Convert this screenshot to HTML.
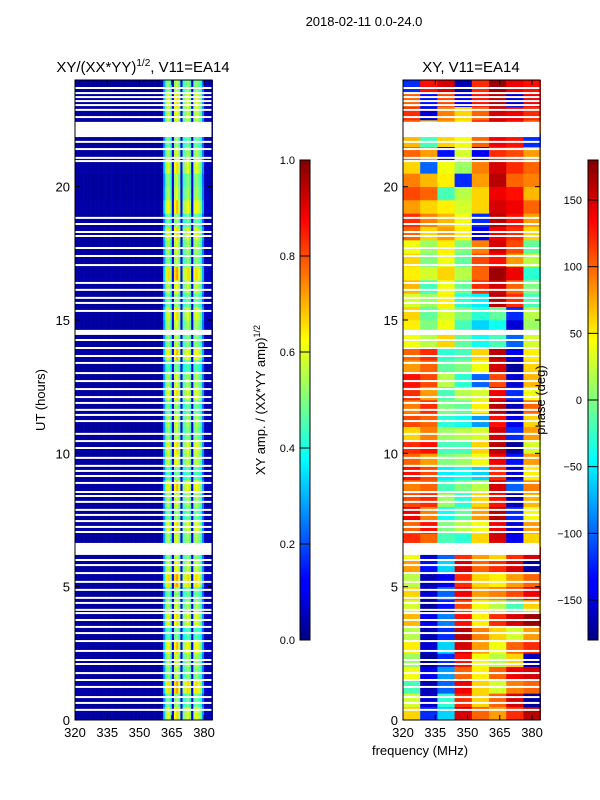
<!DOCTYPE html>
<html><head><meta charset="utf-8">
<style>
html,body{margin:0;padding:0;background:#fff;}
svg{display:block;font-family:"Liberation Sans",sans-serif;}
</style></head>
<body>
<svg id="fig" width="600" height="800" viewBox="0 0 600 800">
<defs>
<linearGradient id="jetv" x1="0" y1="1" x2="0" y2="0">
<stop offset="0" stop-color="#00007f"/><stop offset="0.11" stop-color="#0000ff"/><stop offset="0.125" stop-color="#0000ff"/>
<stop offset="0.34" stop-color="#00dcff"/><stop offset="0.375" stop-color="#00ffff"/><stop offset="0.5" stop-color="#7fff7f"/>
<stop offset="0.625" stop-color="#ffff00"/><stop offset="0.66" stop-color="#ffdc00"/><stop offset="0.875" stop-color="#ff0000"/><stop offset="1" stop-color="#7f0000"/>
</linearGradient>
</defs>
<text x="364" y="26" font-size="13" text-anchor="middle">2018-02-11 0.0-24.0</text>
<text x="143" y="72" font-size="15" text-anchor="middle">XY/(XX*YY)<tspan font-size="10" dy="-6">1/2</tspan><tspan dy="6">, V11=EA14</tspan></text>
<text x="471" y="72" font-size="15" text-anchor="middle">XY, V11=EA14</text>
<g id="left"></g>
<g id="right"></g>
<g id="axes"></g>
<text transform="translate(45,400) rotate(-90)" font-size="13" text-anchor="middle">UT (hours)</text>
<text x="420" y="755" font-size="13" text-anchor="middle">frequency (MHz)</text>
<text transform="translate(265,400) rotate(-90)" font-size="13" text-anchor="middle">XY amp. / (XX*YY amp)<tspan font-size="9" dy="-5">1/2</tspan></text>
<text transform="translate(545,400) rotate(-90)" font-size="13" text-anchor="middle">phase (deg)</text>
<rect x="300" y="160" width="10" height="480" fill="url(#jetv)" stroke="#000" stroke-width="1"/>
<rect x="588" y="160" width="10" height="480" fill="url(#jetv)" stroke="#000" stroke-width="1"/>
<g id="cbticks"></g>
</svg>
<script>
// ---- data ----
const ampProfile = [0.03,0.03,0.04,0.03,0.03,0.04,0.03,0.03,0.03,0.04,0.03,0.03,0.03,0.04,0.03,0.03,0.03,0.04,0.03,0.03,0.03,0.04,0.03,0.03,0.03,0.04,0.03,0.03,0.03,0.04,0.03,0.03,0.03,0.04,0.03,0.03,0.03,0.04,0.03,0.03,0.05,0.3,0.5,0.55,0.45,0.1,0.55,0.6,0.5,0.12,0.45,0.5,0.55,0.45,0.1,0.5,0.55,0.5,0.45,0.25,0.06,0.05,0.06,0.05];
const ampRowFactor = [1.1,0.9,1.2,0.95,1.0,1.15,0.85,1.1,1.0,0.9,1.2,1.05,0.95,1,1.1,0.9,1.0,1.15,0.85,1.05,1.1,0.95,1.0,0.9,1.1,1.0,0.85,1.15,0.95,1.0,1.1,0.9,1.05,1.2,0.95,1.0,1.1,0.9,1.15,1.0,0.95,1.1,1.0,0.9,1,1.05,1.1,0.95];
const phaseRows = [
[60,-120,-60,150,100,80,120,160],[30,-150,-30,120,60,100,150,-170],[-20,-160,-100,140,60,30,90,100],[40,-140,-80,100,50,100,140,150],
[10,-170,-120,130,40,20,60,-160],[50,-150,-60,150,80,40,100,120],[20,-160,-120,160,90,60,30,80],[70,-140,-90,130,50,120,150,170],
[30,-170,-130,110,40,20,-20,60],[60,-150,-100,140,80,90,110,140],[20,-160,-140,120,60,50,80,100],[80,-130,-60,150,100,120,150,-170],
[40,-150,-100,120,80,60,120,150],[120,100,-20,-30,60,150,-140,60],[100,130,0,20,40,140,-150,80],[140,90,-40,-10,80,160,-120,40],
[110,120,10,-30,60,130,-160,70],[90,100,-20,0,20,150,-100,90],[130,110,-50,-40,-60,120,-150,50],[100,80,0,10,40,140,-130,80],
[120,130,-20,-20,60,160,-170,30],[60,90,10,20,30,150,-120,80],[110,100,-30,-40,-80,130,-140,60],[90,120,0,-10,50,160,-160,100],
[120,80,-20,20,30,140,-120,40],[130,110,20,-30,-100,110,-150,70],[80,100,-10,0,40,150,-170,60],[100,120,-30,-20,60,160,-140,50],
[40,20,60,-10,-40,-20,-100,30],[50,0,40,-20,-60,-40,-150,10],[60,-10,30,0,-30,-10,-120,20],[30,10,50,-30,-50,160,120,-20],
[70,-20,40,-10,120,150,100,0],[50,30,60,20,100,170,140,-30],[60,0,40,-10,110,130,80,20],[40,10,50,0,90,150,110,-10],
[100,60,80,50,-140,140,120,60],[120,90,70,40,-120,160,130,80],[80,60,50,30,60,150,140,100],[110,100,-20,20,60,140,130,70],
[90,70,50,-120,80,160,100,90],[60,-100,40,10,90,150,120,100],[100,80,-130,30,-140,120,110,80],[70,-20,60,40,100,140,130,-120],
[100,60,80,50,120,150,130,100],[120,-150,90,60,100,150,140,120],[100,-130,110,-140,130,160,-150,140],[-120,130,150,-160,120,170,140,130]];
const gapLines = [23.7,23.51,23.36,23.21,23.06,22.88,22.61,21.68,21.41,21.08,20.96,18.83,18.6,18.3,18.15,17.7,17.4,17.06,16.39,16.13,15.83,15.64,15.34,14.25,13.95,13.65,13.39,13.01,12.71,12.41,12.11,11.89,11.63,11.44,11.21,10.73,10.46,10.2,9.83,9.53,9.34,9.15,8.89,8.55,8.4,8.18,7.88,7.69,7.46,7.24,7.05,6.0,5.81,5.51,5.18,4.88,4.58,4.39,4.13,4.01,3.75,3.49,3.26,2.96,2.59,2.25,2.1,1.76,1.5,1.24,0.86,0.64,0.38];
const gapBands = [[21.86,22.43],[14.44,14.63],[6.19,6.64]];
const xTicks = [320,335,350,365,380];
const yTicks = [0,5,10,15,20];
const ampTicks = [0.0,0.2,0.4,0.6,0.8,1.0];
const phaseTicks = [150,100,50,0,-50,-100,-150];

// ---- scales ----
const NS="http://www.w3.org/2000/svg";
const PX={L:75,R:403}, W=137, TOP=80, BOT=720;
const xs=(f,x0)=>x0+(f-320)*W/63.7;
const ys=h=>BOT-h*(BOT-TOP)/24;
const cl=v=>Math.max(0,Math.min(1,v));
function jet(t){t=cl(t);const r=cl(1.5-Math.abs(4*t-3)),g=cl(1.5-Math.abs(4*t-2)),b=cl(1.5-Math.abs(4*t-1));
return `rgb(${Math.round(r*255)},${Math.round(g*255)},${Math.round(b*255)})`;}
function mk(tag,attrs,parent){const e=document.createElementNS(NS,tag);for(const k in attrs)e.setAttribute(k,attrs[k]);parent.appendChild(e);return e;}

const left=document.getElementById('left'), right=document.getElementById('right'), axes=document.getElementById('axes');
const nRows=ampRowFactor.length, rowH=24/nRows;
ampRowFactor.forEach((fac,ri)=>{
  const y1=ys((ri+1)*rowH), y0=ys(ri*rowH);
  ampProfile.forEach((a,ci)=>{
    const r=mk('rect',{x:xs(320+ci,PX.L),y:y1,width:W/63.7+0.3,height:y0-y1+0.3,fill:jet(a*fac)},left);
    
    
  });
});
const pRowH=24/phaseRows.length, segW=64/phaseRows[0].length;
phaseRows.forEach((row,ri)=>{
  const y1=ys((ri+1)*pRowH), y0=ys(ri*pRowH);
  row.forEach((p,si)=>{
    const r=mk('rect',{x:xs(320+si*segW,PX.R),y:y1,width:segW*W/63.7+0.3,height:y0-y1+0.3,fill:jet((p+180)/360)},right);
    
    
  });
});
[PX.L,PX.R].forEach(x0=>{
  const g=x0===PX.L?left:right;
  gapLines.forEach(h=>{
    const r=mk('rect',{x:x0,y:ys(h)-1,width:W,height:2,fill:'#fff'},g);
    
    
  });
  gapBands.forEach(b=>{
    const r=mk('rect',{x:x0,y:ys(b[1]),width:W,height:ys(b[0])-ys(b[1]),fill:'#fff'},g);
    
    
  });
  const fr=mk('rect',{x:x0,y:TOP,width:W,height:BOT-TOP,fill:'none',stroke:'#000','stroke-width':1},axes);
  
  
  xTicks.forEach(f=>{
    const x=xs(f,x0);
    mk('line',{x1:x,x2:x,y1:BOT,y2:BOT-5,stroke:'#000'},axes);
    mk('line',{x1:x,x2:x,y1:TOP,y2:TOP+5,stroke:'#000'},axes);
    const t=mk('text',{x:x,y:BOT+17,'font-size':13,'text-anchor':'middle'},axes);
    t.textContent=f;
    
    
  });
  yTicks.forEach(h=>{
    const y=ys(h);
    mk('line',{x1:x0,x2:x0+5,y1:y,y2:y,stroke:'#000'},axes);
    mk('line',{x1:x0+W,x2:x0+W-5,y1:y,y2:y,stroke:'#000'},axes);
    const t=mk('text',{x:x0-5,y:y+5,'font-size':13,'text-anchor':'end'},axes);
    t.textContent=h;
    
    
  });
});
const cb=document.getElementById('cbticks');
ampTicks.forEach(v=>{
  const y=640-v*480;
  mk('line',{x1:300,x2:310,y1:y,y2:y,stroke:'#000'},cb);
  const t=mk('text',{x:295,y:y+4,'font-size':11,'text-anchor':'end'},cb);
  t.textContent=v.toFixed(1);
  
  
});
phaseTicks.forEach(v=>{
  const y=400-v*480/360;
  mk('line',{x1:588,x2:598,y1:y,y2:y,stroke:'#000'},cb);
  const t=mk('text',{x:582,y:y+4,'font-size':11,'text-anchor':'end'},cb);
  t.textContent=v<0?'\u2212'+(-v):v;
  
  
});
</script>
</body></html>
